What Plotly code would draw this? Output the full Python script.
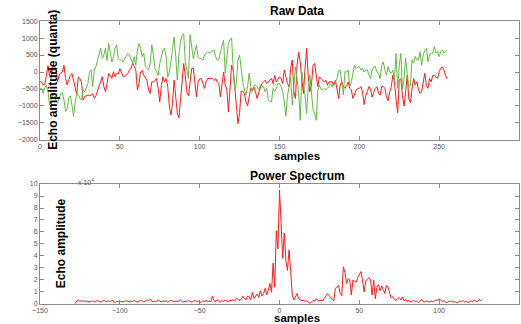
import numpy as np
import plotly.graph_objects as go

# ---- data ----
raw_red = [-280,-300,-380,-380,-100,190,-140,-190,160,150,110,-280,-90,-20,0,200,-190,-380,-240,-100,
           -40,-280,-430,-650,-140,-200,-300,-820,-720,-700,-680,-690,-680,-640,-770,-700,-560,-420,-300,-140,
           -430,-580,-340,-40,-100,-190,10,-140,-40,-60,100,0,-120,-140,-100,-40,60,100,270,150,
           60,-530,-340,0,50,-90,-190,-250,-530,-630,-290,-290,-250,-190,-480,-880,-400,-140,-290,-190,
           -430,-1000,-1270,-920,-240,-630,-1200,-1350,-730,-190,250,-100,-600,-700,-190,100,120,-300,-730,-300,
           -200,-190,-340,-480,-290,-190,-190,-190,-190,-250,-190,-290,-340,-730,-300,0,-380,-500,-1180,-540,
           200,60,-570,-1000,-1520,-1200,-560,-580,-640,-880,-1000,-700,-480,-530,-440,-600,-780,-600,-450,-340,
           -290,-240,-340,-290,-240,-190,-340,-100,-290,-200,-140,-190,-340,60,-150,-340,-430,100,350,-580,
           -780,200,580,300,-240,-630,100,700,-140,-580,-390,200,250,-140,-430,-140,-190,-240,-290,-240,
           -390,-290,-290,-290,-390,-240,-500,-780,-390,-290,-430,-480,-390,-290,-480,-530,-780,-630,-530,-480,
           -480,-430,-580,-960,-700,-580,-430,-500,-740,-600,-480,-430,-620,-680,-430,-430,-480,-730,-850,-600,
           -430,-90,-300,-800,-1200,-240,-190,-700,-1000,-580,-90,-800,-900,-500,-190,-380,-290,-500,-630,-580,
           -290,-40,-400,-480,-190,-290,-100,-100,-140,-190,10,110,150,60,-100,-200]

raw_green = [-480,-480,-630,-450,-400,-580,-970,-830,-660,-720,-820,-920,-780,-640,-600,-820,-1160,-1080,-770,-700,
             -970,-1300,-900,-630,-670,-780,-820,-530,-580,-430,-340,0,60,-430,60,160,350,500,700,400,
             500,700,340,840,600,300,450,700,800,400,350,360,300,400,450,550,500,350,250,450,
             200,650,840,700,450,550,160,100,60,250,800,500,100,0,-100,250,450,650,700,450,
             -150,0,300,650,1030,450,-240,500,900,1080,1130,300,0,-190,1100,750,400,600,800,450,
             400,400,350,500,560,600,560,600,620,650,450,350,350,600,800,940,-40,350,850,960,
             1000,100,-530,-300,350,500,100,-300,-500,-670,-440,-30,-430,-580,-400,-380,-430,-530,-380,-430,
             -430,-580,-480,-820,-870,-870,-480,-580,-480,-340,-340,-430,-580,-870,-1300,-700,-430,-140,-970,-240,
             150,-200,-630,-1420,0,-350,-700,-1220,-430,-90,-700,-1100,-1220,-1420,-530,-390,-500,-530,-480,-530,
             -480,-430,-340,-430,-290,-290,-200,40,60,-400,-670,10,0,60,-430,-290,-40,200,100,150,
             160,60,110,0,60,60,-90,-190,60,150,160,10,-40,-190,200,300,60,-90,160,0,
             -40,60,-240,550,-480,200,550,-530,-190,400,-40,-430,-400,360,260,460,360,350,600,200,
             500,650,700,300,500,560,560,750,560,600,450,600,650,560,600,650]

spectrum = [300,2500,3200,2000,2800,2200,2600,1800,2400,1500,2000,2700,1800,2300,2900,2100,1600,2400,3000,2200,
            1700,2500,1900,3200,1800,1200,2200,1900,2600,1500,2300,1800,2800,2100,1600,2600,2000,3000,2200,1400,
            2100,2900,2300,1700,2500,3400,2600,4000,2200,1800,2500,1900,3200,2400,1600,2600,2000,2800,1500,2200,
            3100,2300,1700,2600,1900,2400,3300,2000,1500,2500,1800,2900,2200,1400,2300,3000,1600,2400,1800,1100,
            2600,2000,3200,1700,2500,1900,6400,2600,2000,3400,2300,1600,2800,2000,3100,2400,1800,3000,2500,
            3600,2200,4800,3400,2900,3800,6400,4200,3400,6600,5800,3600,9600,4600,6300,8200,5400,11000,6600,8600,
            13000,7600,11500,17000,9800,34000,14000,61000,46000,95000,67000,38000,59000,36000,28000,45000,27000,7200,3300,5600,
            8600,4400,3500,2600,3100,2200,2600,1800,600,1500,2900,2200,4200,3300,2400,3100,2600,4500,6200,8600,
            7000,5800,4200,2600,13000,14500,15500,8600,6800,31000,26000,17000,21000,20000,7500,20000,19000,18000,22000,25000,
            27000,20000,10000,19000,21000,22000,20000,7500,20000,4400,14000,16000,11000,15000,12000,8600,15500,14000,9000,5000,
            6000,3500,3000,4200,5400,3300,5800,2600,3800,2200,2900,1400,2400,3100,1700,2300,1200,2600,3900,2000,
            1500,2700,2100,1300,2400,1800,2600,3300,2800,4400,2900,2000,2800,1500,1100,2300,1700,2600,1400,2100,
            700,1600,2400,1900,2800,1500,2200,1000,1900,2600,1700,3200,2300,1800,3600,2700,3800]

raw_x = np.arange(len(raw_red))
spec_x = np.arange(-128, -128 + len(spectrum))

raw_xticks = [0, 50, 100, 150, 200, 250, 300]
raw_yticks = [-2000, -1500, -1000, -500, 0, 500, 1000, 1500]
spec_xticks = [-150, -100, -50, 0, 50, 100, 150]
spec_yticks = [i * 10000 for i in range(11)]
spec_yticklabels = [str(i) for i in range(11)]

RED = "#ff1a1a"
GREEN = "#62bd40"
FONT = "Liberation Sans, Arial, sans-serif"
AXC = "#8c8c8c"

fig = go.Figure()
fig.add_trace(go.Scatter(x=raw_x, y=raw_red, mode="lines", line=dict(color=RED, width=1),
                         xaxis="x", yaxis="y", showlegend=False))
fig.add_trace(go.Scatter(x=raw_x, y=raw_green, mode="lines", line=dict(color=GREEN, width=1),
                         xaxis="x", yaxis="y", showlegend=False))
fig.add_trace(go.Scatter(x=spec_x, y=spectrum, mode="lines", line=dict(color=RED, width=1),
                         xaxis="x2", yaxis="y2", showlegend=False))

axis_common = dict(showline=True, linecolor=AXC, linewidth=1, mirror="ticks", ticks="inside",
                   ticklen=4, tickcolor=AXC, showgrid=False, zeroline=False, automargin=False,
                   tickfont=dict(family=FONT, size=7, color="#555555"))

fig.update_layout(
    width=521, height=324,
    margin=dict(l=40, r=2, t=0, b=0, autoexpand=False),
    paper_bgcolor="white", plot_bgcolor="white",
    font=dict(family=FONT),
    xaxis=dict(domain=[0, 1], anchor="y", range=[0, 300], tickvals=raw_xticks, **axis_common),
    yaxis=dict(domain=[0.568, 0.935], anchor="x", range=[-2000, 1500], tickvals=raw_yticks, **axis_common),
    xaxis2=dict(domain=[0, 1], anchor="y2", range=[-150, 150], tickvals=spec_xticks, **axis_common),
    yaxis2=dict(domain=[0.062, 0.432], anchor="x2", range=[0, 100000], tickvals=spec_yticks,
                ticktext=spec_yticklabels, **axis_common),
)

bold = dict(family=FONT, size=12, color="black")
lab = dict(family=FONT, size=11.5, color="black")
ann = [
    dict(text="<b>Raw Data</b>", x=280, y=11, font=bold),
    dict(text="<b>Power Spectrum</b>", x=280, y=176, font=bold),
    dict(text="<b>samples</b>", x=280, y=156, font=lab),
    dict(text="<b>samples</b>", x=280, y=318, font=lab),
    dict(text="<b>Echo amplitude (quanta)</b>", x=14, y=80, font=bold, textangle=-90),
    dict(text="<b>Echo amplitude</b>", x=23, y=243, font=bold, textangle=-90),
    dict(text="x 10<sup>4</sup>", x=50, y=182, font=dict(family=FONT, size=7, color="#555555")),
]
for a in ann:
    fig.add_annotation(text=a["text"], x=a["x"] / 521, y=1 - a["y"] / 324, xref="paper", yref="paper",
                       showarrow=False, font=a["font"], textangle=a.get("textangle", 0),
                       xanchor="center", yanchor="middle")

fig.write_html("out.html", config={"displayModeBar": False},
               post_script="document.body.style.margin='0px';document.body.style.padding='0px';")
